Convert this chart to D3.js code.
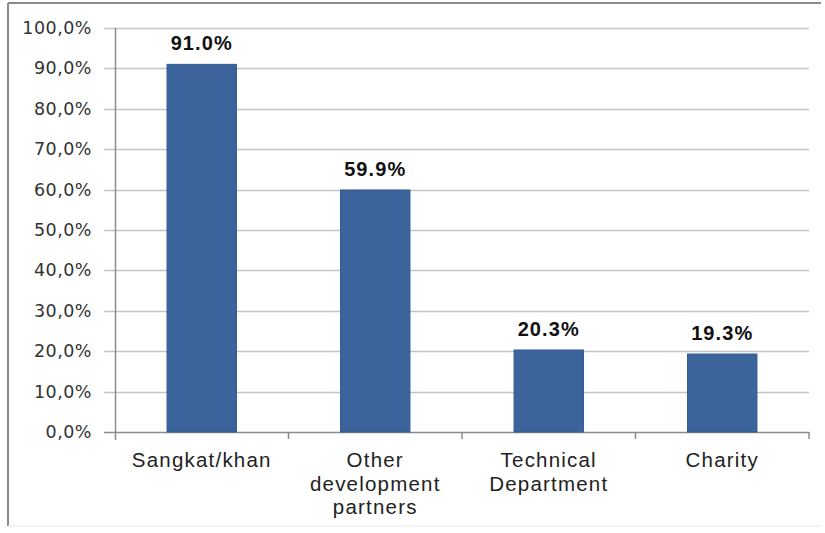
<!DOCTYPE html>
<html>
<head>
<meta charset="utf-8">
<script src="https://cdn.jsdelivr.net/npm/d3@7"></script>
<style>
  body { margin: 0; background: #fff; }
  svg { display: block; }
</style>
</head>
<body>
<div id="chart"></div>
<script>
// chart values
const categories = ["Sangkat/khan", "Other\ndevelopment\npartners", "Technical\nDepartment", "Charity"];
const values = [91.0, 59.9, 20.3, 19.3];
const yTicks = [0, 10, 20, 30, 40, 50, 60, 70, 80, 90, 100];

const width = 825;
const height = 533;

var svg = d3.select("#chart")
    .append("svg")
    .attr("width", width)
    .attr("height", height);

// outer frame of the chart
svg.append("line").attr("x1", 8).attr("x2", 8).attr("y1", 3).attr("y2", 526)
    .attr("stroke", "#8a8a8a").attr("stroke-width", 2);
svg.append("line").attr("x1", 8).attr("x2", 821).attr("y1", 3).attr("y2", 3)
    .attr("stroke", "#8a8a8a").attr("stroke-width", 2);
svg.append("line").attr("x1", 8).attr("x2", 821).attr("y1", 526).attr("y2", 526)
    .attr("stroke", "#e6e6e6").attr("stroke-width", 1);

// plot area
const plotLeft = 115, plotRight = 809, plotTop = 28, plotBottom = 432;

var x = d3.scaleBand()
    .domain(categories)
    .range([plotLeft, plotRight])
    .paddingInner(0.6)
    .paddingOuter(0.3);

var y = d3.scaleLinear()
    .domain([0, 100])
    .range([plotBottom, plotTop]);

// gridlines + left ticks
svg.append("g")
    .selectAll("line")
    .data(yTicks)
    .join("line")
    .attr("x1", plotLeft - 11)
    .attr("x2", plotRight)
    .attr("y1", d => Math.round(y(d)) + 0.5)
    .attr("y2", d => Math.round(y(d)) + 0.5)
    .attr("stroke", d => d === 0 ? "#8c8c8c" : "#c4c4c4")
    .attr("stroke-width", 1.5);

// y tick labels
svg.append("g")
    .selectAll("text")
    .data(yTicks)
    .join("text")
    .attr("x", 92)
    .attr("y", d => y(d) + 6)
    .attr("text-anchor", "end")
    .attr("font-family", "'DejaVu Sans', Verdana, sans-serif")
    .attr("font-size", 17.5)
    .attr("letter-spacing", 0.5)
    .attr("fill", "#333")
    .text(d => d.toFixed(1).replace(".", ",") + "%");

// y axis line
svg.append("line")
    .attr("x1", plotLeft + 0.5).attr("x2", plotLeft + 0.5)
    .attr("y1", plotTop).attr("y2", plotBottom + 8)
    .attr("stroke", "#8c8c8c").attr("stroke-width", 1.5);

// category tick marks
var step = (plotRight - plotLeft) / categories.length;
svg.append("g")
    .selectAll("line")
    .data(d3.range(1, categories.length + 1))
    .join("line")
    .attr("x1", d => plotLeft + d * step)
    .attr("x2", d => plotLeft + d * step)
    .attr("y1", plotBottom)
    .attr("y2", plotBottom + 7)
    .attr("stroke", "#8c8c8c")
    .attr("stroke-width", 1.5);

// bars
svg.append("g")
    .selectAll("rect")
    .data(values)
    .join("rect")
    .attr("x", (d, i) => x(categories[i]))
    .attr("y", d => y(d))
    .attr("width", x.bandwidth())
    .attr("height", d => plotBottom - y(d))
    .attr("fill", "#3b649c")
    .attr("stroke", "#345a8d")
    .attr("stroke-width", 1);

// value labels
svg.append("g")
    .selectAll("text")
    .data(values)
    .join("text")
    .attr("x", (d, i) => x(categories[i]) + x.bandwidth() / 2)
    .attr("y", d => y(d) - 14)
    .attr("text-anchor", "middle")
    .attr("font-family", "'Liberation Sans', Arial, sans-serif")
    .attr("font-weight", "bold")
    .attr("font-size", 20)
    .attr("letter-spacing", 1.1)
    .attr("fill", "#111")
    .text(d => d.toFixed(1) + "%");

// category labels
var cat = svg.append("g")
    .selectAll("text")
    .data(categories)
    .join("text")
    .attr("text-anchor", "middle")
    .attr("font-family", "'Liberation Sans', Arial, sans-serif")
    .attr("font-size", 20.5)
    .attr("letter-spacing", 1.2)
    .attr("fill", "#222");

cat.each(function (d) {
    var t = d3.select(this);
    var cx = x(d) + x.bandwidth() / 2;
    d.split("\n").forEach(function (line, j) {
        t.append("tspan")
            .attr("x", cx)
            .attr("y", 467 + j * 23.5)
            .text(line);
    });
});
</script>
</body>
</html>
